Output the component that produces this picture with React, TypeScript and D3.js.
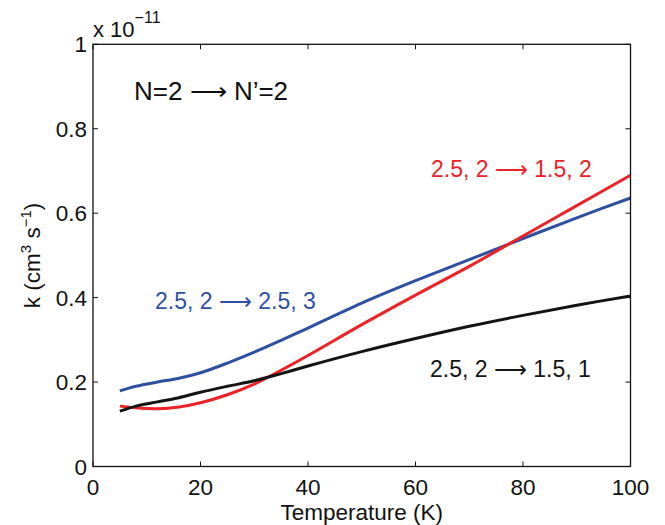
import React from 'react';
import * as d3 from 'd3';

const temps = [5, 8, 12, 16, 20, 25, 30, 35, 40, 50, 60, 70, 80, 90, 100];
// rate coefficients, units of 1e-11 cm^3 s^-1
const blueVals = [0.179, 0.19, 0.2, 0.209, 0.222, 0.245, 0.271, 0.299, 0.328, 0.387, 0.44, 0.49, 0.54, 0.589, 0.636];
const redVals = [0.143, 0.139, 0.137, 0.141, 0.151, 0.17, 0.195, 0.228, 0.263, 0.336, 0.406, 0.474, 0.546, 0.618, 0.69];
const blackVals = [0.131, 0.143, 0.153, 0.163, 0.176, 0.19, 0.203, 0.22, 0.238, 0.272, 0.303, 0.332, 0.358, 0.382, 0.404];

const xTicks = [0, 20, 40, 60, 80, 100];
const yTicks = [0, 0.2, 0.4, 0.6, 0.8, 1];

const series = [
  { name: 'blue', vals: blueVals, color: '#2f4fa3' },
  { name: 'red', vals: redVals, color: '#ec2227' },
  { name: 'black', vals: blackVals, color: '#141414' },
];

const font = '"Liberation Sans", Arial, Helvetica, sans-serif';

// thin long arrow like the one in the figure
const Arrow = () => <tspan fontFamily='"DejaVu Sans"' fontWeight={200}>⟶</tspan>;

export default function App() {
  const width = 665;
  const height = 525;
  const left = 93, right = 630.5, top = 44.3, bottom = 466.5;

  const x = d3.scaleLinear().domain([0, 100]).range([left, right]);
  const y = d3.scaleLinear().domain([0, 1]).range([bottom, top]);

  const line = d3.line<number>()
    .x((d, i) => x(temps[i]))
    .y(d => y(d))
    .curve(d3.curveCatmullRom.alpha(0.5));

  const tl = 5;

  return (
    <svg width={width} height={height} style={{ position: 'absolute', left: 0, top: 0 }} fontFamily={font}>
      <rect width={width} height={height} fill="#fff" />
      <g>
        {series.map(s =>
          <path key={s.name} d={line(s.vals) || ''} fill="none" stroke={s.color} strokeWidth={3} strokeLinejoin="round" />
        )}
      </g>
      <rect x={left} y={top} width={right - left} height={bottom - top} fill="none" stroke="#111" strokeWidth={1.3} />
      {xTicks.map(t =>
        <g key={'x' + t}>
          <line x1={x(t)} x2={x(t)} y1={bottom} y2={bottom - tl} stroke="#111" strokeWidth={1} />
          <line x1={x(t)} x2={x(t)} y1={top} y2={top + tl} stroke="#111" strokeWidth={1} />
          <text x={x(t)} y={495} textAnchor="middle" fontSize={22.5} fill="#111">{t}</text>
        </g>
      )}
      {yTicks.map(t =>
        <g key={'y' + t}>
          <line x1={left} x2={left + tl} y1={y(t)} y2={y(t)} stroke="#111" strokeWidth={1} />
          <line x1={right} x2={right - tl} y1={y(t)} y2={y(t)} stroke="#111" strokeWidth={1} />
          <text x={87} y={y(t) + 8} textAnchor="end" fontSize={22.5} fill="#111">{String(+t.toFixed(1))}</text>
        </g>
      )}
      <text x={93} y={37} fontSize={22} fill="#111">x 10<tspan dy={-14} fontSize={16}>−11</tspan></text>
      <text x={(left + right) / 2} y={520} textAnchor="middle" fontSize={22.5} fill="#111">Temperature (K)</text>
      <text transform={`translate(40,${(top + bottom) / 2}) rotate(-90)`} textAnchor="middle" fontSize={22.5} fill="#111">
        k (cm<tspan dy={-9} fontSize={15}>3</tspan><tspan dy={9}> s</tspan><tspan dy={-9} fontSize={15}>−1</tspan><tspan dy={9}>)</tspan>
      </text>
      <text x={134} y={100} fontSize={26} fill="#111">N=2 <Arrow /> N’=2</text>
      <text x={431} y={177} fontSize={23} fill="#ec2227">2.5, 2 <Arrow /> 1.5, 2</text>
      <text x={155} y={309} fontSize={23} fill="#2f4fa3">2.5, 2 <Arrow /> 2.5, 3</text>
      <text x={430} y={377} fontSize={23} fill="#141414">2.5, 2 <Arrow /> 1.5, 1</text>
    </svg>
  );
}
